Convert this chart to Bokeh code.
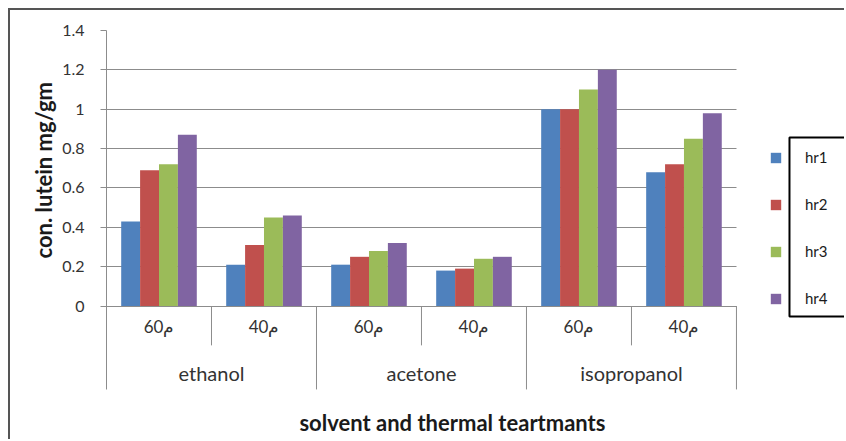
import math
from bokeh.plotting import figure
from bokeh.models import (Range1d, FixedTicker, CustomJSTickFormatter, Title,
                          ColumnDataSource, Legend, LegendItem, Label, BoxAnnotation)
from bokeh.core.properties import value
from bokeh.embed import file_html
from bokeh.resources import INLINE

# ---------------- data ----------------
solvents = ["ethanol", "acetone", "isopropanol"]
temps = ["60م", "40م"]
series = ["hr1", "hr2", "hr3", "hr4"]
hr1 = [0.43, 0.21, 0.21, 0.18, 1.00, 0.68]
hr2 = [0.69, 0.31, 0.25, 0.19, 1.00, 0.72]
hr3 = [0.72, 0.45, 0.28, 0.24, 1.10, 0.85]
hr4 = [0.87, 0.46, 0.32, 0.25, 1.20, 0.98]
y_ticks = [0, 0.2, 0.4, 0.6, 0.8, 1.0, 1.2, 1.4]
y_title = "con. lutein mg/gm"
x_title = "solvent and thermal teartmants"

colors = ["#4F81BD", "#C0504D", "#9BBB59", "#8064A2"]
FONT = "Lato"
GRAY = "#8c8c8c"
TXT = "#333333"

n_cat = len(solvents) * len(temps)
centers = [i + 0.5 for i in range(n_cat)]
src = ColumnDataSource(dict(x=centers, hr1=hr1, hr2=hr2, hr3=hr3, hr4=hr4))

Y_BOTTOM = -0.6885      # canvas bottom
TABLE_BOTTOM = -0.424   # bottom of the category table

p = figure(width=836, height=431, output_backend="svg", toolbar_location=None,
           x_range=Range1d(0, 7.048), y_range=Range1d(Y_BOTTOM, 1.4),
           x_axis_location=None,
           min_border_left=96, min_border_right=0, min_border_top=20,
           min_border_bottom=0, outline_line_color=None,
           background_fill_color="white", border_fill_color="white")
p.styles = {"margin-left": "8px", "margin-top": "8px",
            "border-left": "2px solid #555555", "border-top": "2px solid #555555"}

# bars
offsets = [-0.27, -0.09, 0.09, 0.27]
items = []
for name, off, col in zip(series, offsets, colors):
    r = p.vbar(x=[c + off for c in centers], top=src.data[name], width=0.18, bottom=0,
               fill_color=col, line_color=None)
    items.append(LegendItem(label=name, renderers=[r]))

# y axis (ticks + labels)
p.xgrid.visible = False
p.yaxis.ticker = FixedTicker(ticks=y_ticks)
p.yaxis.bounds = (TABLE_BOTTOM, 1.4)
p.yaxis.formatter = CustomJSTickFormatter(code="return tick.toFixed(1).replace(/\\.0$/, '')")
p.yaxis.axis_line_color = GRAY
p.yaxis.major_tick_line_color = GRAY
p.yaxis.major_tick_in = 0
p.yaxis.major_tick_out = 6
p.yaxis.minor_tick_line_color = None
p.yaxis.major_label_standoff = 16
p.yaxis.major_label_text_font = FONT
p.yaxis.major_label_text_font_size = "16px"
p.yaxis.major_label_text_color = TXT

# horizontal grid lines limited to the plot area
p.ygrid.grid_line_color = GRAY
p.ygrid.grid_line_width = 1
try:
    p.ygrid.cross_bounds = (0, n_cat)
    p.ygrid.bounds = (0, 1.4)
except AttributeError:
    p.ygrid.visible = False
    p.segment(x0=[0] * len(y_ticks), x1=[n_cat] * len(y_ticks), y0=y_ticks, y1=y_ticks,
              line_color=GRAY, line_width=1)

# y title (left side, shifted up from the bottom of the frame)
p.add_layout(Title(text=y_title, align="left", offset=183, text_font=FONT,
                   text_font_style="bold", text_font_size="22px",
                   text_color="#1a1a1a", standoff=6), "left")

# category table separators
sub_sep = [2 * g + 1 for g in range(len(solvents))]
grp_sep = [2 * g + 2 for g in range(len(solvents))]
p.segment(x0=sub_sep + grp_sep, x1=sub_sep + grp_sep,
          y0=[0] * 6, y1=[-0.2] * 3 + [TABLE_BOTTOM] * 3,
          line_color=GRAY, line_width=1)

# category labels
p.text(x=centers, y=[-0.105] * n_cat, text=[t for s in solvents for t in temps],
       text_align="center", text_baseline="middle", text_font=value(FONT),
       text_font_size="17px", text_color=TXT)
p.text(x=[2 * g + 1 for g in range(len(solvents))], y=[-0.338] * len(solvents),
       text=solvents, text_align="center", text_baseline="middle",
       text_font=value(FONT), text_font_size="20px", text_color=TXT)

# x title
p.add_layout(Label(x=3.295, y=-0.592, text=x_title, text_align="center",
                   text_baseline="middle", text_font=FONT, text_font_style="bold",
                   text_font_size="22px", text_color="#1a1a1a"))

# legend
legend = Legend(items=items, location=(663, 134), glyph_width=13, glyph_height=13,
                label_height=13, spacing=29, label_standoff=23, padding=0, margin=0,
                border_line_color=None, background_fill_alpha=0,
                label_text_font=FONT, label_text_font_size="15px",
                label_text_color="#1a1a1a")
p.add_layout(legend)
p.add_layout(BoxAnnotation(left=6.505, right=7.3, top=0.856, bottom=-0.053,
                           fill_color=None, line_color="black", line_alpha=1.0,
                           line_width=2))

open("out.html", "w").write(file_html(p, INLINE))
